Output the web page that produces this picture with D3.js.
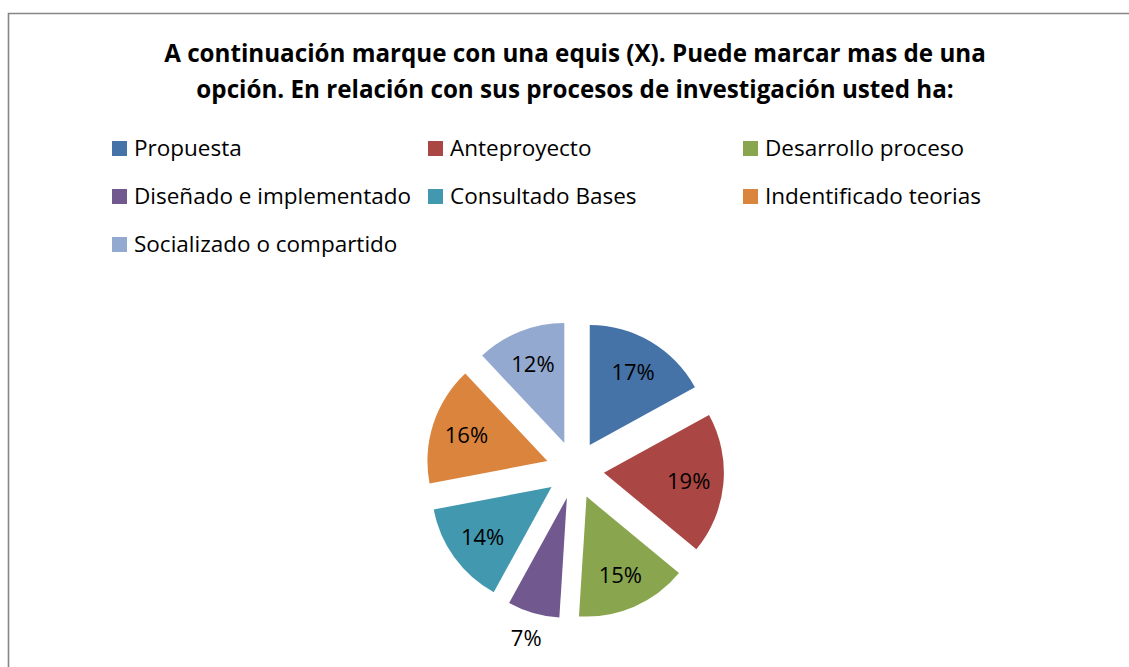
<!DOCTYPE html>
<html>
<head>
<meta charset="utf-8">
<script src="https://cdn.jsdelivr.net/npm/d3@7"></script>
<style>
  body { margin: 0; background: #fff; }
  svg { display: block; }
  text { font-family: "Open Sans", Lato, sans-serif; }
</style>
</head>
<body>
<svg width="1129" height="667"></svg>
<script>
var svg = d3.select("svg");

// data
var categories = ["Propuesta", "Anteproyecto", "Desarrollo proceso", "Diseñado e implementado",
                  "Consultado Bases", "Indentificado teorias", "Socializado o compartido"];
var values = [17, 19, 15, 7, 14, 16, 12];
var colors = ["#4572A7", "#AA4643", "#89A54E", "#71588F", "#4198AF", "#DB843D", "#93A9CF"];
var titleLines = ["A continuación marque con una equis (X). Puede marcar mas de una",
                  "opción. En relación con sus procesos de investigación usted ha:"];

// frame
svg.append("path")
  .attr("d", "M8.5,667 L8.5,13.5 L1129,13.5")
  .attr("fill", "none")
  .attr("stroke", "#868686")
  .attr("stroke-width", 1.6);

// title
svg.append("g").selectAll("text")
  .data(titleLines)
  .enter().append("text")
  .attr("x", 575)
  .attr("y", function(d, i) { return 62 + i * 36; })
  .attr("text-anchor", "middle")
  .attr("font-size", 24.2)
  .attr("font-weight", "bold")
  .attr("fill", "#000")
  .text(function(d) { return d; });

// legend
var colX = [112, 428, 743];
var legend = svg.append("g").selectAll("g")
  .data(categories)
  .enter().append("g")
  .attr("transform", function(d, i) {
    return "translate(" + colX[i % 3] + "," + (141 + Math.floor(i / 3) * 48) + ")";
  });
legend.append("rect")
  .attr("width", 15).attr("height", 15)
  .attr("fill", function(d, i) { return colors[i]; });
legend.append("text")
  .attr("x", 22).attr("y", 15)
  .attr("font-size", 22.5)
  .attr("fill", "#000")
  .text(function(d) { return d; });

// pie
var cx = 575, cy = 470, r = 120, explode = 29;
var pie = d3.pie().sort(null).value(function(d) { return d; });
var arc = d3.arc().innerRadius(0).outerRadius(r);
var arcs = pie(values);
var total = d3.sum(values);

function offset(d, dist) {
  var a = (d.startAngle + d.endAngle) / 2;
  return [Math.sin(a) * dist, -Math.cos(a) * dist];
}

var g = svg.append("g").attr("transform", "translate(" + cx + "," + cy + ")");

var slice = g.selectAll("g.slice")
  .data(arcs)
  .enter().append("g")
  .attr("class", "slice")
  .attr("transform", function(d) {
    var o = offset(d, explode);
    return "translate(" + o[0] + "," + o[1] + ")";
  });

slice.append("path")
  .attr("d", arc)
  .attr("fill", function(d, i) { return colors[i]; });

slice.append("text")
  .attr("transform", function(d) {
    var dist = d.data < 10 ? r + 26 : r * 0.71;
    var o = offset(d, dist);
    return "translate(" + o[0] + "," + o[1] + ")";
  })
  .attr("text-anchor", "middle")
  .attr("dy", "0.36em")
  .attr("font-size", 22)
  .attr("fill", "#000")
  .text(function(d) { return Math.round(d.data / total * 100) + "%"; });
</script>
</body>
</html>
